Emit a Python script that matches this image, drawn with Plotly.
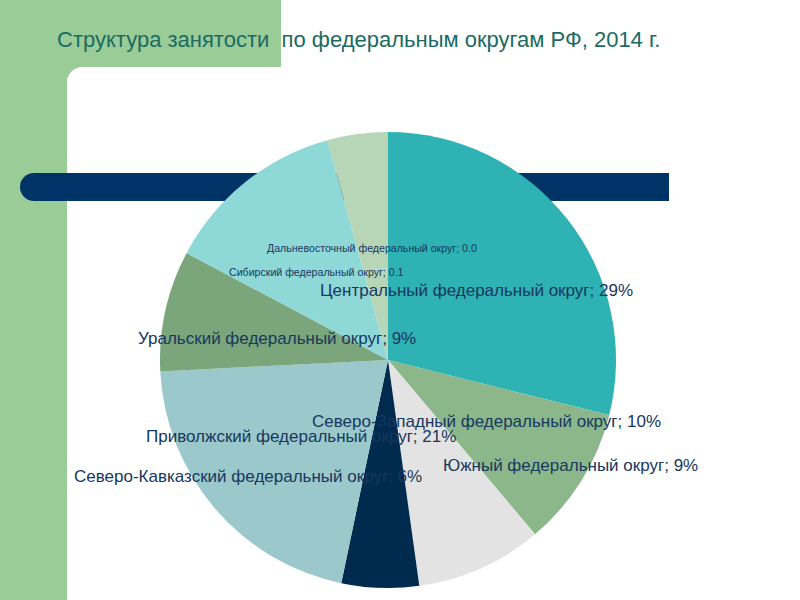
import plotly.graph_objects as go

W, H = 800, 600

districts = [
    "Центральный федеральный округ",
    "Северо-Западный федеральный округ",
    "Южный федеральный округ",
    "Северо-Кавказский федеральный округ",
    "Приволжский федеральный округ",
    "Уральский федеральный округ",
    "Сибирский федеральный округ",
    "Дальневосточный федеральный округ",
]
shares = [29, 10, 9, 5.5, 21, 8.6, 13, 4.3]
value_labels = ["29%", "10%", "9%", "6%", "21%", "9%", "0.1", "0.0"]
colors = ["#2EB2B3", "#8BB78A", "#E3E3E3", "#002B4F", "#9BC8CB", "#7BA57A", "#8FD8D8", "#B6D6B7"]

# label placement (pixel centres) and font sizes
label_pos = [(477, 290), (486, 421), (570, 466), (248, 476), (301, 436), (277, 338), (316, 272), (372, 248)]
label_size = [17, 17, 17, 17, 17, 17, 10.6, 10.6]


def px(x):
    return x / W


def py(y):
    return 1 - y / H


fig = go.Figure()
fig.add_trace(go.Pie(
    labels=districts,
    values=shares,
    sort=False,
    direction="clockwise",
    rotation=0,
    marker=dict(colors=colors, line=dict(width=0)),
    textinfo="none",
    hoverinfo="label+percent",
    showlegend=False,
    domain=dict(x=[px(160), px(616)], y=[py(588), py(132)]),
))

green = "#9ACC98"
navy = "#003366"
shapes = [
    dict(type="rect", xref="paper", yref="paper", x0=0, x1=px(281), y0=py(67), y1=1,
         fillcolor=green, line=dict(width=0), layer="below"),
    dict(type="rect", xref="paper", yref="paper", x0=0, x1=px(67), y0=0, y1=1,
         fillcolor=green, line=dict(width=0), layer="below"),
    dict(type="path", xref="paper", yref="paper",
         path=f"M {px(66)},{py(66)} L {px(86)},{py(66)} Q {px(67)},{py(67)} {px(66)},{py(86)} Z",
         fillcolor=green, line=dict(width=0), layer="below"),
    dict(type="circle", xref="paper", yref="paper", x0=px(20), x1=px(48), y0=py(201), y1=py(173),
         fillcolor=navy, line=dict(width=0), layer="below"),
    dict(type="rect", xref="paper", yref="paper", x0=px(34), x1=px(669), y0=py(201), y1=py(173),
         fillcolor=navy, line=dict(width=0), layer="below"),
]

annotations = [
    dict(x=px(55), y=py(40), xref="paper", yref="paper", xanchor="left", yanchor="middle",
         text="Структура занятости  по федеральным округам РФ, 2014 г.", showarrow=False,
         font=dict(family="Liberation Sans, Arial, sans-serif", size=22, color="#1B6B62")),
]
for name, val, (lx, ly), fs in zip(districts, value_labels, label_pos, label_size):
    annotations.append(dict(
        x=px(lx), y=py(ly), xref="paper", yref="paper", xanchor="center", yanchor="middle",
        text=f"{name}; {val}", showarrow=False,
        font=dict(family="Liberation Sans, Arial, sans-serif", size=fs, color="#17375E"),
    ))

fig.update_layout(
    width=W, height=H,
    margin=dict(l=0, r=0, t=0, b=0),
    paper_bgcolor="white",
    plot_bgcolor="white",
    shapes=shapes,
    annotations=annotations,
)

fig.write_html("out.html", config={"displayModeBar": False},
               post_script="document.body.style.margin='0px';")
